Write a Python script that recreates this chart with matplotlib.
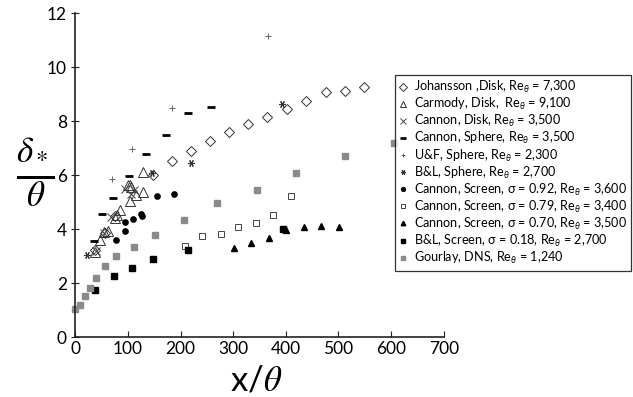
import matplotlib
matplotlib.use("Agg")
import matplotlib.pyplot as plt

plt.rcParams['font.family'] = ['Lato', 'DejaVu Sans']
plt.rcParams['mathtext.fontset'] = 'custom'
plt.rcParams['mathtext.rm'] = 'Lato'
plt.rcParams['mathtext.it'] = 'Lato:italic'

# ---- data ----
joh_x = [38, 56, 76, 147, 184, 220, 256, 292, 329, 365, 402, 439, 476, 512, 549]
joh_y = [3.22, 3.86, 4.5, 5.99, 6.52, 6.91, 7.25, 7.59, 7.90, 8.15, 8.46, 8.74, 9.06, 9.13, 9.28]

car_x = [36.6, 47.3, 54, 62, 75, 79, 84, 99.7, 104, 105, 115.5, 128, 103, 128]
car_y = [3.16, 3.59, 3.90, 3.94, 4.40, 4.51, 4.72, 5.63, 5.04, 5.56, 5.25, 5.38, 5.62, 6.11]

cdisk_x = [40, 55, 68, 95, 106, 112]
cdisk_y = [3.2, 3.85, 4.45, 5.5, 5.31, 5.45]

csph_x = [34.7, 50.4, 71.2, 102.8, 133.7, 173, 214, 257.6]
csph_y = [3.56, 4.54, 5.16, 5.96, 6.79, 7.47, 8.29, 8.54]

uf_x = [70, 107, 184, 365.5]
uf_y = [5.87, 6.97, 8.47, 11.17]

bls_x = [22.7, 145, 219, 392]
bls_y = [3.03, 6.09, 6.46, 8.63]

c92_x = [78, 94, 94, 110, 124, 126, 156, 188]
c92_y = [3.60, 3.93, 4.25, 4.37, 4.56, 4.49, 5.23, 5.29]

c79_x = [208, 241, 276, 309, 343, 376, 410]
c79_y = [3.37, 3.76, 3.81, 4.07, 4.24, 4.51, 5.21]

c70_x = [301, 334, 368, 400, 434, 467, 501]
c70_y = [3.30, 3.49, 3.66, 3.97, 4.06, 4.12, 4.06]

blscr_x = [37, 74, 108, 148, 215, 395]
blscr_y = [1.75, 2.25, 2.56, 2.88, 3.23, 4.0]

gour_x = [0, 9.5, 18, 28, 40, 56, 78, 111, 152, 206, 270, 345, 420, 512, 606]
gour_y = [1.03, 1.2, 1.51, 1.82, 2.19, 2.62, 3.0, 3.35, 3.78, 4.32, 4.97, 5.46, 6.07, 6.70, 7.18]

labels = [
    r'Johansson ,Disk, Re$_\theta$ = 7,300',
    r'Carmody, Disk,  Re$_\theta$ = 9,100',
    r'Cannon, Disk, Re$_\theta$ = 3,500',
    r'Cannon, Sphere, Re$_\theta$ = 3,500',
    r'U&F, Sphere, Re$_\theta$ = 2,300',
    r'B&L, Sphere, Re$_\theta$ = 2,700',
    r'Cannon, Screen, σ = 0.92, Re$_\theta$ = 3,600',
    r'Cannon, Screen, σ = 0.79, Re$_\theta$ = 3,400',
    r'Cannon, Screen, σ = 0.70, Re$_\theta$ = 3,500',
    r'B&L, Screen, σ = 0.18, Re$_\theta$ = 2,700',
    r'Gourlay, DNS, Re$_\theta$ = 1,240',
]

fig = plt.figure(figsize=(6.33, 3.97), dpi=100)
ax = fig.add_axes([0.119, 0.151, 0.582, 0.816])

gray = '#8a8a8a'
series = [
    (joh_x, joh_y, dict(marker='D', ms=5.2, mfc='white', mec='#333333', mew=0.7)),
    (car_x, car_y, dict(marker='^', ms=6.8, mfc='none', mec='#333333', mew=0.7)),
    (cdisk_x, cdisk_y, dict(marker='x', ms=6, mec='#444444', mew=0.7)),
    (csph_x, csph_y, dict(marker='_', ms=5.5, mec='black', mew=2.0)),
    (uf_x, uf_y, dict(marker='+', ms=5, mec='#666666', mew=0.7)),
    (bls_x, bls_y, dict(marker=(6, 2, 90), ms=5, mec='#333333', mew=0.8)),
    (c92_x, c92_y, dict(marker='o', ms=3.8, mfc='black', mec='black')),
    (c79_x, c79_y, dict(marker='s', ms=3.8, mfc='white', mec='#444444', mew=0.7)),
    (c70_x, c70_y, dict(marker='^', ms=4.5, mfc='black', mec='black')),
    (blscr_x, blscr_y, dict(marker='s', ms=4, mfc='black', mec='black')),
    (gour_x, gour_y, dict(marker='s', ms=4, mfc=gray, mec=gray)),
]
for (xs, ys, st), lab in zip(series, labels):
    ax.plot(xs, ys, ls='none', label=lab, clip_on=False, **st)

ax.set_xlim(0, 700)
ax.set_ylim(0, 12)
ax.set_xticks(range(0, 701, 100))
ax.set_yticks(range(0, 13, 2))
for s in ['top', 'right']:
    ax.spines[s].set_visible(False)
for s in ['left', 'bottom']:
    ax.spines[s].set_color('#222222')
    ax.spines[s].set_linewidth(1.2)
ax.tick_params(axis='x', direction='in', length=4, labelsize=12.5, pad=3, colors='#222222')
ax.tick_params(axis='y', direction='inout', length=6, labelsize=12.5, pad=3, colors='#222222')
for lab in ax.get_xticklabels() + ax.get_yticklabels():
    lab.set_color('black')

fig.text(0.056, 0.565, r'$\frac{\delta_*}{\theta}$', fontsize=36, ha='center', va='center',
         math_fontfamily='stix')
fig.text(0.405, 0.042, r'x/$\theta$', fontsize=25, ha='center', va='center',
         math_fontfamily='stix')

leg = fig.legend(loc='upper right', bbox_to_anchor=(0.9975, 0.812), fontsize=9.05,
                 frameon=True, fancybox=False, edgecolor='black', handlelength=0.6,
                 handletextpad=0.55, labelspacing=0.08, borderpad=0.35, markerscale=0.72,
                 borderaxespad=0)
leg.get_frame().set_linewidth(0.9)

fig.savefig('out.png', dpi=100)
